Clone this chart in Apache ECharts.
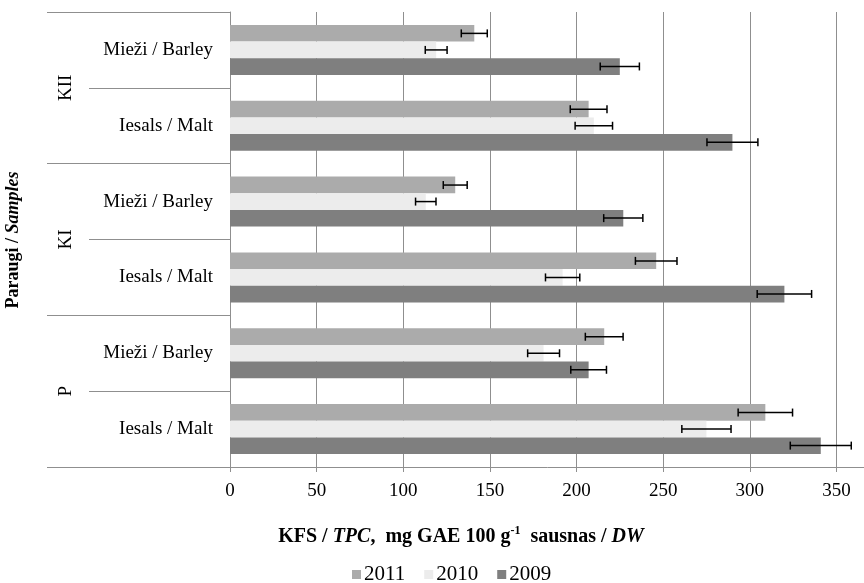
<!DOCTYPE html>
<html>
<head>
<meta charset="utf-8">
<script src="https://cdn.jsdelivr.net/npm/echarts@6/dist/echarts.min.js"></script>
<style>
  html, body { margin: 0; padding: 0; background: #fff; }
  #chart { width: 864px; height: 583px; }
</style>
</head>
<body>
<div id="chart"></div>
<script>
// categories from bottom to top
let samples = ["Iesals / Malt", "Mieži / Barley", "Iesals / Malt", "Mieži / Barley", "Iesals / Malt", "Mieži / Barley"];
let groups = ["P", "KI", "KII"];
let years = ["2011", "2010", "2009"];

let data2011 = [309, 216, 246, 130, 207, 141];
let err2011 = [15.7, 10.9, 12, 6.9, 10.6, 7.5];
let data2010 = [275, 181, 192, 113, 210, 119];
let err2010 = [14.2, 9.2, 9.9, 5.9, 10.8, 6.3];
let data2009 = [341, 207, 320, 227, 290, 225];
let err2009 = [17.6, 10.3, 15.7, 11.3, 14.7, 11.3];

let font = "'Liberation Serif', 'Times New Roman', serif";
let lineGray = "#8f8f8f";

function errData(vals, errs) {
  return vals.map(function (v, i) { return [v, i, errs[i]]; });
}

// shift = fraction of the band height from band centre
function errRender(shift) {
  return function (params, api) {
    let v = api.value(0);
    let c = api.value(1);
    let e = api.value(2);
    let band = api.size([0, 1])[1];
    let y = api.coord([v, c])[1] + shift * band;
    let x1 = api.coord([v - e, c])[0];
    let x2 = api.coord([v + e, c])[0];
    let st = { stroke: "#000", lineWidth: 1.5 };
    return {
      type: "group",
      children: [
        { type: "line", shape: { x1: x1, y1: y, x2: x2, y2: y }, style: st },
        { type: "line", shape: { x1: x1, y1: y - 4, x2: x1, y2: y + 4 }, style: st },
        { type: "line", shape: { x1: x2, y1: y - 4, x2: x2, y2: y + 4 }, style: st }
      ]
    };
  };
}

let option = {
  animation: false,
  textStyle: { fontFamily: font },
  grid: {
    left: 230,
    top: 12,
    bottom: 116,
    width: 693,
    outerBoundsMode: "none",
    containLabel: false
  },
  legend: {
    top: 564,
    left: 352,
    padding: 0,
    data: years,
    icon: "rect",
    itemWidth: 9,
    itemHeight: 9,
    itemGap: 19,
    textStyle: { fontFamily: font, fontSize: 21, lineHeight: 20, color: "#000", padding: [0, 0, 0, -2] }
  },
  xAxis: {
    type: "value",
    min: 0,
    max: 400,
    interval: 50,
    axisLine: { show: true, lineStyle: { color: lineGray } },
    axisTick: { show: true, length: 5, lineStyle: { color: lineGray } },
    splitLine: { show: true, lineStyle: { color: lineGray } },
    axisLabel: { fontFamily: font, fontSize: 19, color: "#000", margin: 15 }
  },
  yAxis: [
    {
      type: "category",
      data: samples,
      axisLine: { show: true, lineStyle: { color: lineGray } },
      axisTick: { show: true, length: 141, lineStyle: { color: lineGray } },
      axisLabel: { fontFamily: font, fontSize: 19, color: "#000", margin: 17 }
    },
    {
      type: "category",
      data: groups,
      position: "left",
      axisLine: { show: false },
      axisTick: { show: true, length: 183, lineStyle: { color: lineGray } },
      axisLabel: { fontFamily: font, fontSize: 19, color: "#000", rotate: 90, margin: 154 }
    }
  ],
  series: [
    { name: "2011", type: "bar", data: data2011, itemStyle: { color: "#ababab" }, barGap: "0%", barCategoryGap: "34%" },
    { name: "2010", type: "bar", data: data2010, itemStyle: { color: "#ececec" }, barGap: "0%", barCategoryGap: "34%" },
    { name: "2009", type: "bar", data: data2009, itemStyle: { color: "#7f7f7f" }, barGap: "0%", barCategoryGap: "34%" },
    { name: "err2011", type: "custom", renderItem: errRender(-0.218), data: errData(data2011, err2011), encode: { x: 0, y: 1 }, z: 5 },
    { name: "err2010", type: "custom", renderItem: errRender(0), data: errData(data2010, err2010), encode: { x: 0, y: 1 }, z: 5 },
    { name: "err2009", type: "custom", renderItem: errRender(0.218), data: errData(data2009, err2009), encode: { x: 0, y: 1 }, z: 5 }
  ],
  graphic: [
    {
      type: "text",
      x: 13,
      y: 240,
      rotation: Math.PI / 2,
      style: {
        text: "{b|Paraugi / }{bi|Samples}",
        align: "center",
        verticalAlign: "middle",
        rich: {
          b: { fontFamily: font, fontSize: 18, fontWeight: "bold", fill: "#000" },
          bi: { fontFamily: font, fontSize: 18, fontWeight: "bold", fontStyle: "italic", fill: "#000" }
        }
      }
    },
    {
      type: "text",
      x: 461,
      y: 537,
      style: {
        text: "{b|KFS / }{bi|TPC}{b|,  mg GAE 100 g}{sup|-1}{b|  sausnas / }{bi|DW}",
        align: "center",
        verticalAlign: "middle",
        rich: {
          b: { fontFamily: font, fontSize: 20, fontWeight: "bold", fill: "#000", lineHeight: 24 },
          bi: { fontFamily: font, fontSize: 20, fontWeight: "bold", fontStyle: "italic", fill: "#000", lineHeight: 24 },
          sup: { fontFamily: font, fontSize: 12, fontWeight: "bold", fill: "#000", lineHeight: 24, verticalAlign: "top" }
        }
      }
    }
  ]
};

let chart = echarts.init(document.getElementById("chart"));
chart.setOption(option);
</script>
</body>
</html>
